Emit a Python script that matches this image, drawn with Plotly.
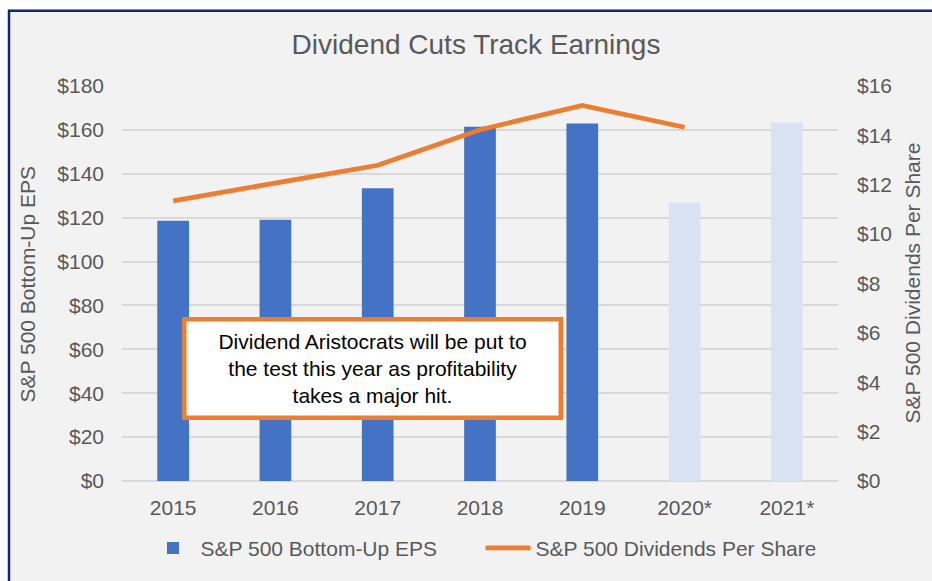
import plotly.graph_objects as go

# Chart data
years = ['2015', '2016', '2017', '2018', '2019', '2020*', '2021*']
eps = [118.6, 119.0, 133.4, 161.4, 162.9, 126.9, 163.4]
dps_years = ['2015', '2016', '2017', '2018', '2019', '2020*']
dps = [11.35, 12.07, 12.79, 14.23, 15.21, 14.33]
estimate_years = ['2020*', '2021*']

blue = '#4472C4'
light_blue = '#DAE3F3'
orange = '#ED7D31'
navy = '#0E2A6B'
grey_text = '#595959'
font_family = 'Liberation Sans, Arial, sans-serif'

W, H = 932, 581
left, right, top, bottom = 122, 94, 86, 96
plot_w = W - left - right
plot_h = H - top - bottom


def px_x(x):
	# pixel -> paper x
	return (x - left) / plot_w


def px_y(y):
	# pixel -> paper y
	return (H - bottom - y) / plot_h


bar_colors = [light_blue if y in estimate_years else blue for y in years]

fig = go.Figure()

fig.add_trace(go.Bar(
	x = years, y = eps, name = 'S&P 500 Bottom-Up EPS',
	marker = dict(color = bar_colors, line = dict(width = 0)),
	yaxis = 'y'
))

fig.add_trace(go.Scatter(
	x = dps_years, y = dps, name = 'S&P 500 Dividends Per Share',
	mode = 'lines', line = dict(color = orange, width = 4.8),
	yaxis = 'y2'
))

# Chart frame: white strip top / left, navy border
shapes = [
	dict(type = 'rect', xref = 'paper', yref = 'paper', x0 = px_x(-5), x1 = px_x(W + 5),
	     y0 = px_y(9), y1 = px_y(-5), fillcolor = 'white', line = dict(width = 0)),
	dict(type = 'rect', xref = 'paper', yref = 'paper', x0 = px_x(-5), x1 = px_x(8),
	     y0 = px_y(H + 5), y1 = px_y(-5), fillcolor = 'white', line = dict(width = 0)),
	dict(type = 'line', xref = 'paper', yref = 'paper', x0 = px_x(8), x1 = px_x(W + 5),
	     y0 = px_y(10), y1 = px_y(10), line = dict(color = navy, width = 2.5)),
	dict(type = 'line', xref = 'paper', yref = 'paper', x0 = px_x(9), x1 = px_x(9),
	     y0 = px_y(9), y1 = px_y(H + 5), line = dict(color = navy, width = 2.5)),
]

annotations = [
	dict(text = 'S&P 500 Bottom-Up EPS', textangle = -90, xref = 'paper', yref = 'paper',
	     x = px_x(27), y = 0.5, xanchor = 'center', yanchor = 'middle', showarrow = False,
	     font = dict(size = 21, color = grey_text, family = font_family)),
	dict(text = 'S&P 500 Dividends Per Share', textangle = -90, xref = 'paper', yref = 'paper',
	     x = px_x(912), y = 0.5, xanchor = 'center', yanchor = 'middle', showarrow = False,
	     font = dict(size = 21, color = grey_text, family = font_family)),
	dict(text = 'Dividend Aristocrats will be put to<br>the test this year as profitability<br>takes a major hit.',
	     xref = 'paper', yref = 'paper', x = px_x(372.5), y = px_y(371), xanchor = 'center', yanchor = 'middle',
	     showarrow = False, align = 'center', bgcolor = 'white', bordercolor = orange, borderwidth = 4.5,
	     borderpad = 0, width = 372, height = 94,
	     font = dict(size = 21, color = 'black', family = font_family)),
]

fig.update_layout(
	width = W, height = H,
	margin = dict(l = left, r = right, t = top, b = bottom),
	paper_bgcolor = '#F2F2F2', plot_bgcolor = '#F2F2F2',
	font = dict(family = font_family, color = grey_text, size = 21),
	title = dict(text = 'Dividend Cuts Track Earnings', x = 476 / W, y = 1 - 44 / H,
	             xanchor = 'center', yanchor = 'middle',
	             font = dict(size = 28, color = grey_text, family = font_family)),
	bargap = 0.69,
	showlegend = True,
	legend = dict(orientation = 'h', x = px_x(480.5), y = px_y(553), xanchor = 'center', yanchor = 'middle',
	              itemwidth = 45, entrywidth = 275, entrywidthmode = 'pixels',
	              font = dict(size = 21, color = grey_text), bgcolor = 'rgba(0,0,0,0)'),
	xaxis = dict(type = 'category', showgrid = False, showline = False, ticks = '',
	             ticklabelstandoff = 12, tickfont = dict(size = 21, color = grey_text)),
	yaxis = dict(range = [0, 180], dtick = 20, tickprefix = '$', showgrid = True,
	             gridcolor = '#D9D9D9', gridwidth = 1.5, zeroline = True, zerolinecolor = '#D9D9D9',
	             zerolinewidth = 1.5, ticks = '', ticklabelstandoff = 17,
	             tickfont = dict(size = 21, color = grey_text)),
	yaxis2 = dict(range = [0, 16], dtick = 2, tickprefix = '$', overlaying = 'y', side = 'right',
	              showgrid = False, zeroline = False, ticks = '', ticklabelstandoff = 18,
	              tickfont = dict(size = 21, color = grey_text)),
	shapes = shapes,
	annotations = annotations,
)

# drop the default page margin so the figure sits at the window's corner
fig.write_html('out.html', config = {'displayModeBar': False},
               post_script = "document.body.style.margin='0';document.body.style.overflow='hidden';")
